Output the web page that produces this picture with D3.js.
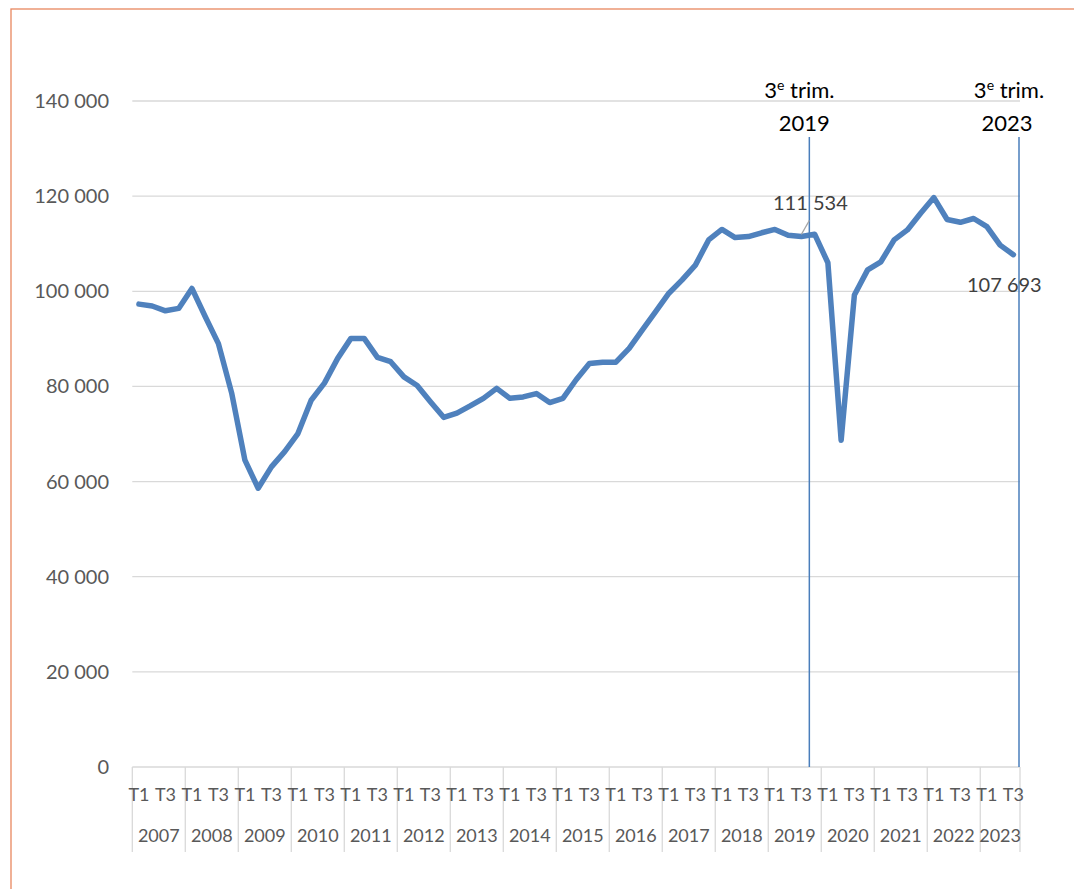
<!DOCTYPE html>
<html>
<head>
<meta charset="utf-8">
<script src="https://cdn.jsdelivr.net/npm/d3@7"></script>
<style>
  body { margin: 0; background: #fff; }
  svg text { font-family: Lato, "Open Sans", sans-serif; }
</style>
</head>
<body>
<svg id="chart" width="1074" height="889"></svg>
<script>
// data
var years = ["2007","2008","2009","2010","2011","2012","2013","2014","2015","2016","2017","2018","2019","2020","2021","2022","2023"];
var quarterNames = ["T1","T2","T3","T4"];
var values = [
  97300, 96900, 95900, 96400,     // 2007
  100600, 94700, 89000, 78600,    // 2008
  64500, 58600, 63100, 66300,     // 2009
  70100, 77100, 80700, 85900,     // 2010
  90100, 90100, 86100, 85200,     // 2011
  82000, 80200, 76800, 73500,     // 2012
  74400, 75900, 77500, 79600,     // 2013
  77500, 77800, 78500, 76600,     // 2014
  77500, 81400, 84800, 85100,     // 2015
  85100, 88000, 91900, 95700,     // 2016
  99600, 102400, 105500, 110800,  // 2017
  113000, 111300, 111500, 112300, // 2018
  113000, 111800, 111534, 112000, // 2019
  106000, 68700, 99200, 104500,   // 2020
  106200, 110800, 112900, 116400, // 2021
  119700, 115100, 114500, 115300, // 2022
  113600, 109700, 107693          // 2023
];
var yTicks = [0, 20000, 40000, 60000, 80000, 100000, 120000, 140000];
var markers = [{ key: "2019-T3", top: "trim.", year: "2019" }, { key: "2023-T3", top: "trim.", year: "2023" }];
var labelled = ["2019-T3", "2023-T3"];

// one entry per quarter
var data = values.map(function (v, i) {
  var yr = years[Math.floor(i / 4)], q = quarterNames[i % 4];
  return { key: yr + "-" + q, year: yr, q: q, value: v };
});

var svg = d3.select("#chart");
var fmt = d3.formatLocale({ decimal: ",", thousands: "\u00a0", grouping: [3], currency: ["", " €"] }).format(",d");

var plotLeft = 132.3, plotRight = 1020, plotTop = 101, plotBottom = 767;

var x = d3.scaleBand().domain(data.map(function (d) { return d.key; })).range([plotLeft, plotRight]).padding(0);
var y = d3.scaleLinear().domain([0, 140000]).range([plotBottom, plotTop]);
var bw = x.bandwidth();
function cx(k) { return x(k) + bw / 2; }

// outer frame
svg.append("rect").attr("x", 11).attr("y", 9).attr("width", 1080).attr("height", 900)
  .attr("fill", "none").attr("stroke", "#E8875F").attr("stroke-width", 1.3);

// grid + y labels
svg.append("g").selectAll("line").data(yTicks.filter(function (t) { return t > 0; })).join("line")
  .attr("x1", plotLeft).attr("x2", plotRight)
  .attr("y1", function (d) { return y(d); }).attr("y2", function (d) { return y(d); })
  .attr("stroke", "#D9D9D9").attr("stroke-width", 1.3);

svg.append("g").selectAll("text").data(yTicks).join("text")
  .attr("x", 109).attr("y", function (d) { return y(d) + 7; })
  .attr("text-anchor", "end").attr("font-size", 20).attr("fill", "#595959")
  .text(function (d) { return fmt(d); });

// x axis line
svg.append("line").attr("x1", plotLeft).attr("x2", plotRight).attr("y1", plotBottom).attr("y2", plotBottom)
  .attr("stroke", "#D9D9D9").attr("stroke-width", 1.3);

// year dividers
var bounds = years.map(function (yr) { return x(yr + "-T1"); }).concat([plotRight]);
svg.append("g").selectAll("line").data(bounds).join("line")
  .attr("x1", function (d) { return d; }).attr("x2", function (d) { return d; })
  .attr("y1", plotBottom).attr("y2", 852)
  .attr("stroke", "#D9D9D9").attr("stroke-width", 1.3);

// T1 / T3 labels
svg.append("g").selectAll("text").data(data.filter(function (d) { return d.q === "T1" || d.q === "T3"; })).join("text")
  .attr("x", function (d) { return cx(d.key); }).attr("y", 801)
  .attr("text-anchor", "middle").attr("font-size", 18).attr("fill", "#595959")
  .text(function (d) { return d.q; });

// year labels
svg.append("g").selectAll("text").data(years).join("text")
  .attr("x", function (yr) {
    var ks = data.filter(function (d) { return d.year === yr; });
    return (x(ks[0].key) + x(ks[ks.length - 1].key) + bw) / 2;
  })
  .attr("y", 842).attr("text-anchor", "middle").attr("font-size", 18).attr("fill", "#595959")
  .text(function (d) { return d; });

// series
var line = d3.line().x(function (d) { return cx(d.key); }).y(function (d) { return y(d.value); });
svg.append("path").datum(data).attr("d", line)
  .attr("fill", "none").attr("stroke", "#4F81BD").attr("stroke-width", 5.5)
  .attr("stroke-linejoin", "round").attr("stroke-linecap", "round");

// vertical reference lines with headings
var mx = [x(markers[0].key) + bw * 1.1, x(markers[1].key) + bw - 1];
markers.forEach(function (m, i) {
  svg.append("line").attr("x1", mx[i]).attr("x2", mx[i]).attr("y1", 137).attr("y2", plotBottom)
    .attr("stroke", "#4A7EBB").attr("stroke-width", 1.5);
  var t = svg.append("text").attr("x", mx[i] - 10).attr("y", 98).attr("text-anchor", "middle")
    .attr("font-size", 22).attr("fill", "#000");
  t.append("tspan").text("3");
  t.append("tspan").attr("font-size", 14).attr("dy", -8).text("e");
  t.append("tspan").attr("dy", 8).text(" " + m.top);
  svg.append("text").attr("x", mx[i] - (i === 0 ? 5 : 12)).attr("y", 131).attr("text-anchor", "middle")
    .attr("font-size", 22).attr("fill", "#000").text(m.year);
});

// data labels
var d1 = data.find(function (d) { return d.key === labelled[0]; });
var d2 = data.find(function (d) { return d.key === labelled[1]; });
svg.append("line").attr("x1", cx(d1.key)).attr("y1", y(d1.value) - 2)
  .attr("x2", cx(d1.key) + 8).attr("y2", y(d1.value) - 16)
  .attr("stroke", "#A6A6A6").attr("stroke-width", 1.2);
svg.append("text").attr("x", cx(d1.key) + 9).attr("y", y(d1.value) - 26)
  .attr("text-anchor", "middle").attr("font-size", 20).attr("fill", "#404040").text(fmt(d1.value));
svg.append("text").attr("x", cx(d2.key) - 9).attr("y", y(d2.value) + 37)
  .attr("text-anchor", "middle").attr("font-size", 20).attr("fill", "#404040").text(fmt(d2.value));
</script>
</body>
</html>
